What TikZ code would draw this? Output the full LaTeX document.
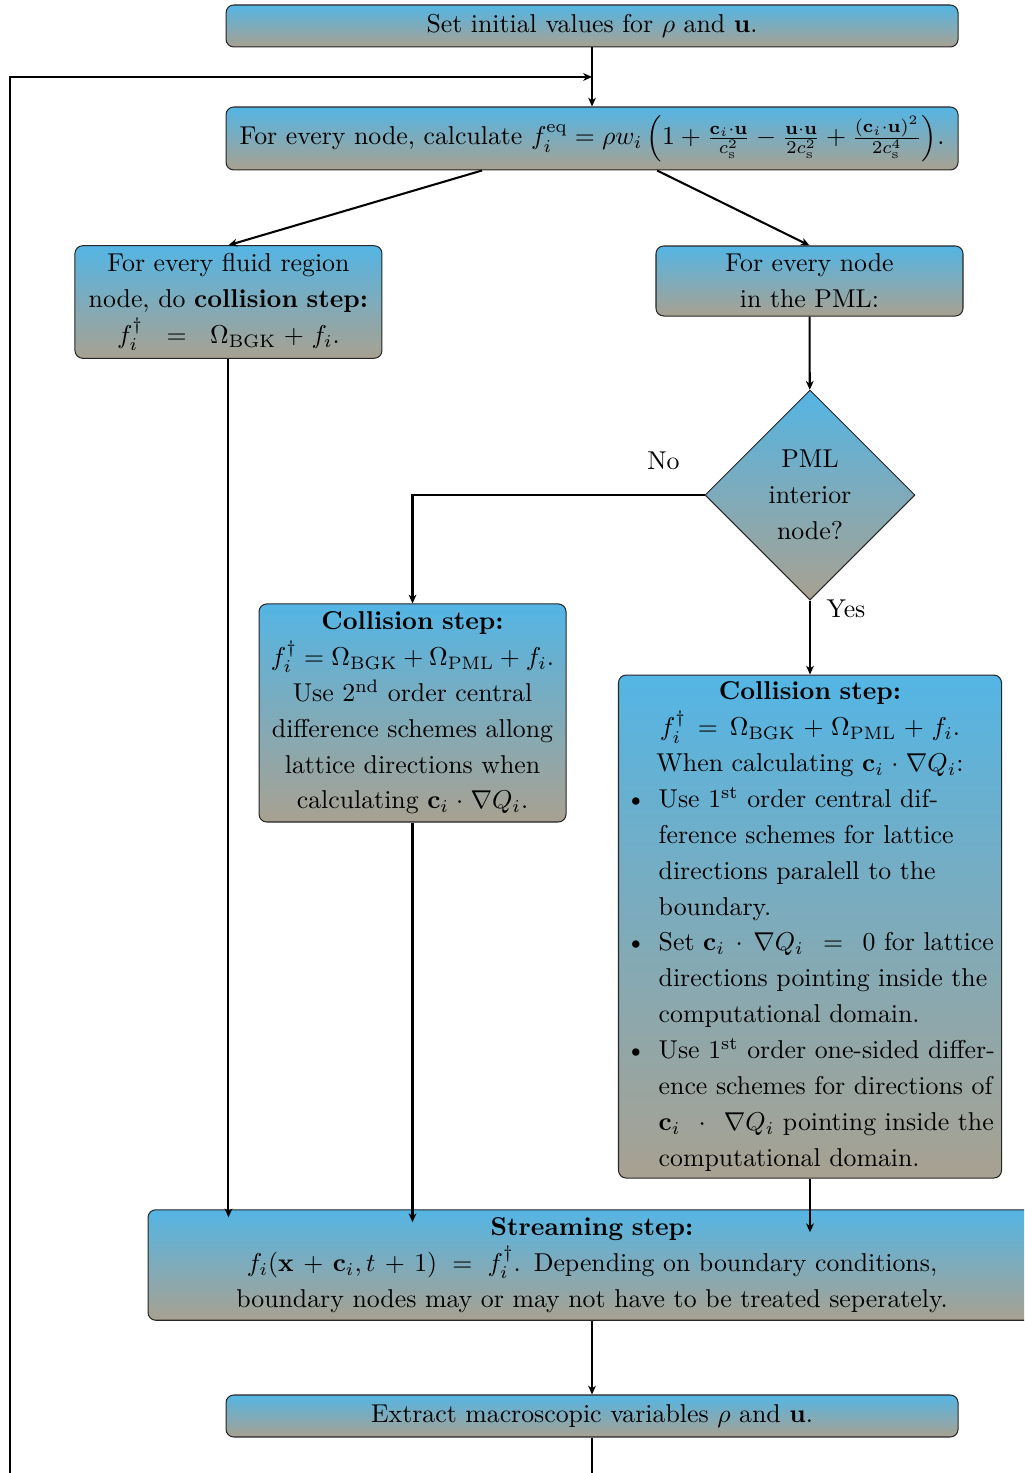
\documentclass[tikz,border=0pt]{standalone}
\usepackage{amsmath}
\usepackage{amssymb}
\usepackage{enumitem}
\usepackage{tikz}
\usetikzlibrary{positioning,arrows.meta,shapes.geometric,calc}

\definecolor{boxtop}{RGB}{84,181,228}
\definecolor{boxbot}{RGB}{168,161,145}
\newcommand{\listskips}{\leftskip 0pt\rightskip 0pt plus 2em\parfillskip 0pt plus 1fil\relax}

\begin{document}
\begin{tikzpicture}[
    procbox/.style={rectangle, rounded corners=3pt, draw=black!85, thin,
        top color=boxtop, bottom color=boxbot, align=center,
        font=\fontsize{10}{13.9}\selectfont, inner sep=3pt},
    decbox/.style={diamond, aspect=1, draw=black!85, thin,
        top color=boxtop, bottom color=boxbot, align=center,
        font=\fontsize{10}{13.9}\selectfont, inner sep=0pt,
        minimum width=2.861cm, minimum height=2.861cm},
    arr/.style={-{Stealth[length=3.4pt,width=3pt,inset=1pt]}, thick}
]
        % Page frame (the picture is cut at its edges)
        \useasboundingbox (0,0) rectangle (13.953,-20.071);
        \clip (0,0) rectangle (13.953,-20.071);

        % Initial step and equilibrium
        \node[procbox, minimum width=9.974cm, minimum height=0.572cm] (init) at (8.067,-0.354)
            {Set initial values for $\rho$ and $\mathbf{u}$.};
        \node[procbox, minimum width=9.974cm, minimum height=0.858cm] (eq) at (8.067,-1.887)
            {For every node, calculate $f_i^{\text{eq}} = \rho w_i \left(1 + \frac{\mathbf{c}_i\cdot\mathbf{u}}{c_\text{s}^2} - \frac{\mathbf{u}\cdot\mathbf{u}}{2c_\text{s}^2} + \frac{(\mathbf{c}_i\cdot\mathbf{u})^2}{2c_\text{s}^4}\right)$.};

        % Fluid region and PML branches
        \node[procbox, text width=112pt, minimum width=4.183cm, minimum height=1.526cm] (fluid) at (3.113,-4.115)
            {For every fluid region node, do \textbf{collision step:}\\$f_i^\dagger \;=\; \Omega_\text{BGK} + f_i$.};
        \node[procbox, text width=108pt, minimum width=4.183cm, minimum height=0.954cm] (pml) at (11.030,-3.829)
            {For every node\\in the PML:};

        % Decision
        \node[decbox] (decision) at (11.037,-6.745) {PML\\interior\\node?};

        % Collision steps in the PML
        \node[procbox, text width=110pt, minimum width=4.183cm, minimum height=2.970cm] (coll1) at (5.621,-9.715)
            {\textbf{Collision step:}\\$f_i^\dagger = \Omega_\text{BGK} + \Omega_\text{PML} + f_i$. Use 2\textsuperscript{nd} order central difference schemes allong lattice directions when calculating $\mathbf{c}_i\cdot\nabla Q_i$.};
        \node[procbox, text width=142.5pt, inner ysep=1.5pt, minimum width=5.178cm, minimum height=6.854cm] (coll2) at (11.037,-12.625)
            {\textbf{Collision step:}\\$f_i^\dagger = \Omega_\text{BGK} + \Omega_\text{PML} + f_i$.\\When calculating $\mathbf{c}_i\cdot\nabla Q_i$:\par
            \begin{itemize}[nosep, leftmargin=12.6pt, before={\listskips}]
                \item Use 1\textsuperscript{st} order central difference schemes for lattice directions paralell to the boundary.
                \item Set $\mathbf{c}_i\cdot\nabla Q_i = 0$ for lattice directions pointing inside the computational domain.
                \item \makebox[\linewidth][l]{Use 1\textsuperscript{st} order one-sided differ-}\linebreak ence schemes for directions of $\mathbf{c}_i\cdot\nabla Q_i$ pointing inside the computational domain.
            \end{itemize}};

        % Streaming and macroscopic variables
        \node[procbox, text width=280pt, minimum width=12.10cm, minimum height=1.499cm] (stream) at (8.067,-17.237)
            {\textbf{Streaming step:}\\{\medmuskip=6mu plus 2mu\thickmuskip=9mu plus 5mu $f_i(\mathbf{x} + \mathbf{c}_i, t + 1) = f_i^\dagger$}. Depending on boundary conditions, boundary nodes may or may not have to be treated seperately.};
        \node[procbox, minimum width=9.974cm, minimum height=0.572cm] (extract) at (8.067,-19.294)
            {Extract macroscopic variables $\rho$ and $\mathbf{u}$.};

        % Connectors
        \coordinate (merge) at (8.067,-1.049);
        \coordinate (loopend) at (0.136,-20.6);
        \draw[arr] (init) -- (eq);
        \draw[arr] ([xshift=-1.499cm]eq.south) -- (fluid.north);
        \draw[arr] ([xshift=0.886cm]eq.south) -- (pml.north);
        \draw[arr] (pml) -- (decision);
        \draw[arr] (decision.west) -| (coll1.north);
        \draw[arr] (decision) -- (coll2);
        \draw[arr, shorten >=-3.1pt] (fluid.south) -- (fluid.south |- stream.north);
        \draw[arr, shorten >=-5pt] (coll1.south) -- (coll1.south |- stream.north);
        \draw[arr, shorten >=-8.9pt] (coll2.south) -- (coll2.south |- stream.north);
        \draw[arr] (stream) -- (extract);
        \draw[arr] (extract.south) |- (loopend) |- (merge);

        % Branch labels
        \node (no) at ($(decision.west)+(-0.559,0.463)$) {No};
        \node (yes) at ($(decision.south)+(0.49,-0.11)$) {Yes};
\end{tikzpicture}
\end{document}
